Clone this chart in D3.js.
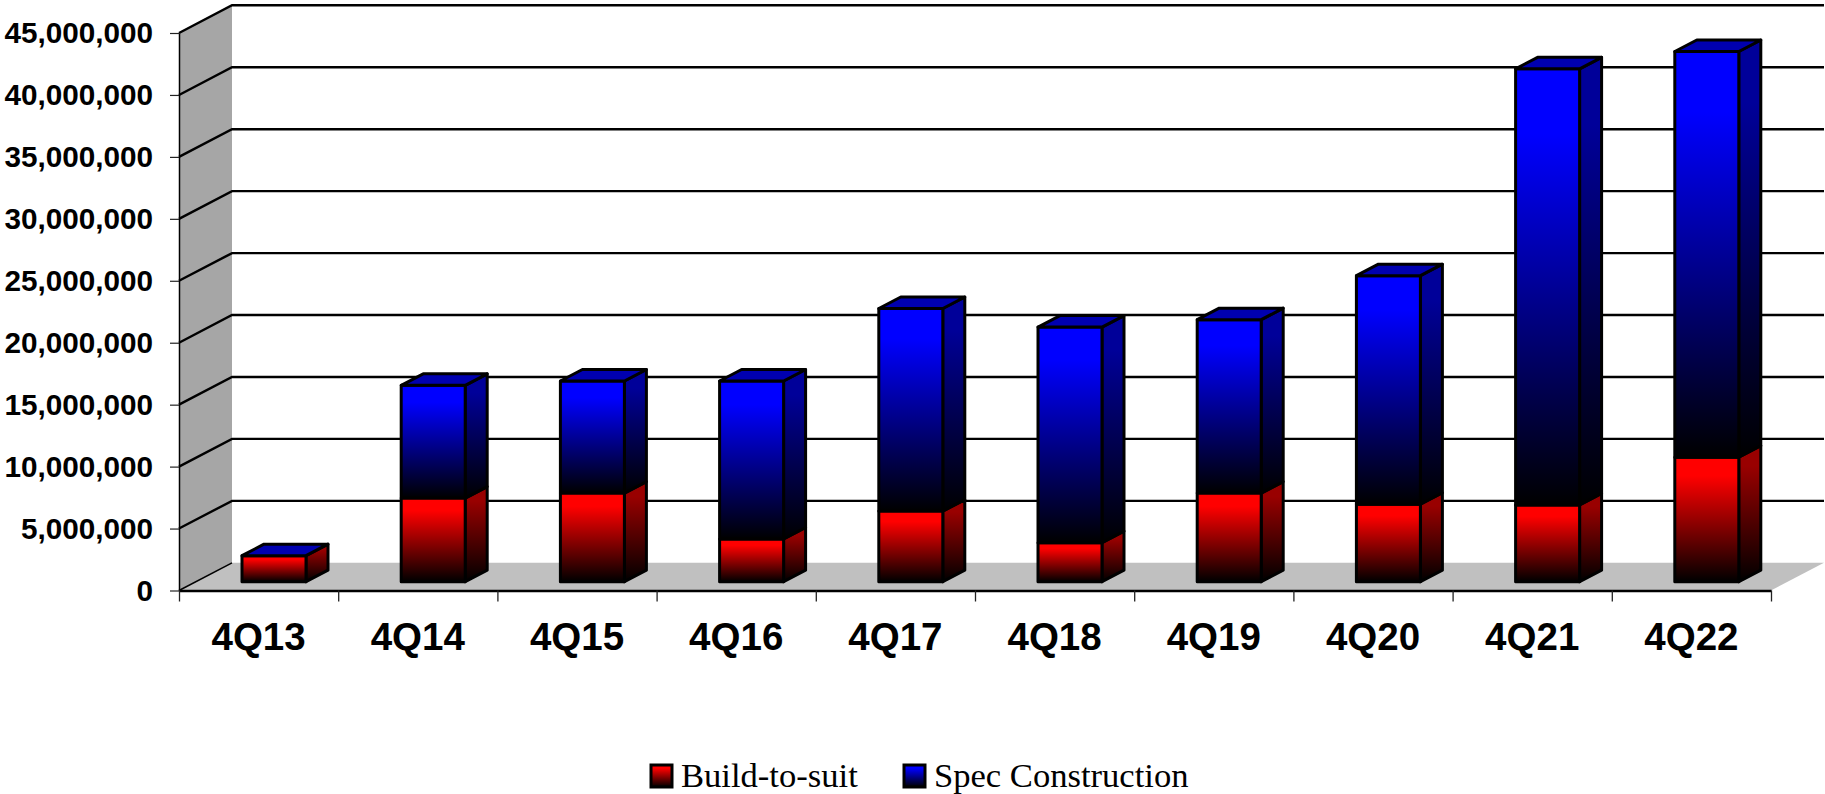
<!DOCTYPE html>
<html>
<head>
<meta charset="utf-8">
<script src="https://cdn.jsdelivr.net/npm/d3@7"></script>
<style>
  html, body { margin: 0; padding: 0; background: #fff; overflow: hidden; }
  .axis-label { font-family: "Liberation Sans", Arial, sans-serif; font-weight: 700; fill: #000; }
  .legend-label { font-family: "Liberation Serif", serif; font-size: 34.6px; fill: #000; }
</style>
</head>
<body>
<svg id="chart"></svg>
<script>
const quarters = ['4Q13', '4Q14', '4Q15', '4Q16', '4Q17', '4Q18', '4Q19', '4Q20', '4Q21', '4Q22'];
const buildToSuit = [2100000, 6750000, 7150000, 3450000, 5700000, 3150000, 7150000, 6250000, 6200000, 10050000];
const specConstruction = [0, 9100000, 9050000, 12750000, 16350000, 17400000, 14000000, 18450000, 35200000, 32750000];
const seriesNames = ['Build-to-suit', 'Spec Construction'];
const yTicks = [0, 5000000, 10000000, 15000000, 20000000, 25000000, 30000000, 35000000, 40000000, 45000000];

const width = 1825;
const height = 794;

const plot = { left: 179, right: 1771, top: 33, bottom: 590.5 };
const wall = { dx: 53, dy: -27.7 }; // depth of the 3d box
const bar = { offset: 63, width: 64, dx: 22, dy: -11.5, lift: -8.8 };

const svg = d3.select('#chart').attr('width', width).attr('height', height);

const xScale = d3.scaleBand().domain(quarters).range([plot.left, plot.right]);
const xEdges = d3.scaleLinear().domain([0, quarters.length]).range([plot.left, plot.right]);
const yScale = d3.scaleLinear().domain([0, 45000000]).range([plot.bottom, plot.top]);

const colors = {
  'Build-to-suit': { front: '#ff0000', side: '#990000' },
  'Spec Construction': { front: '#0000ff', side: '#000099' },
};

// gradients, all fading to black at the bottom
const defs = svg.append('defs');
function addGradient(id, color) {
  const g = defs.append('linearGradient').attr('id', id).attr('x1', 0).attr('y1', 0).attr('x2', 0).attr('y2', 1);
  g.append('stop').attr('offset', '0%').attr('stop-color', color);
  g.append('stop').attr('offset', '15%').attr('stop-color', color);
  g.append('stop').attr('offset', '100%').attr('stop-color', '#000');
}
seriesNames.forEach((name, i) => {
  addGradient(`front${i}`, colors[name].front);
  addGradient(`side${i}`, colors[name].side);
});

const poly = (pts) => `M${pts.map((p) => p.join(',')).join('L')}Z`;

// floor
svg.append('path')
  .attr('d', poly([
    [plot.left, plot.bottom],
    [plot.left + wall.dx, plot.bottom + wall.dy],
    [plot.right + wall.dx, plot.bottom + wall.dy],
    [plot.right, plot.bottom],
  ]))
  .attr('fill', '#c0c0c0');

// left wall
svg.append('path')
  .attr('d', poly([
    [plot.left, plot.top],
    [plot.left + wall.dx, plot.top + wall.dy],
    [plot.left + wall.dx, plot.bottom + wall.dy],
    [plot.left, plot.bottom],
  ]))
  .attr('fill', '#a6a6a6');

// gridlines, back wall and across the left wall
svg.append('g')
  .selectAll('path')
  .data(yTicks)
  .join('path')
  .attr('d', (d) => {
    const y = yScale(d);
    const diag = `M${plot.left},${y}L${plot.left + wall.dx},${y + wall.dy}`;
    return d === 0 ? diag : `${diag}L${plot.right + wall.dx},${y + wall.dy}`;
  })
  .attr('fill', 'none')
  .attr('stroke', '#000')
  .attr('stroke-width', (d) => (d === 0 ? 1.5 : 2.4));

// bars
const stacked = d3.stack().keys(seriesNames).value((d, key) => d[key])(
  quarters.map((q, i) => ({
    quarter: q,
    [seriesNames[0]]: buildToSuit[i],
    [seriesNames[1]]: specConstruction[i],
  })),
);

const barsG = svg.append('g').attr('stroke', '#000').attr('stroke-width', 3).attr('stroke-linejoin', 'round');

stacked.forEach((layer, s) => {
  const group = barsG.append('g');
  layer.forEach((seg) => {
    if (seg[1] === seg[0]) return;
    const x0 = xScale(seg.data.quarter) + bar.offset;
    const x1 = x0 + bar.width;
    const yTop = yScale(seg[1]) + bar.lift;
    const yBase = yScale(seg[0]) + bar.lift;
    group.append('path')
      .attr('d', poly([[x1, yTop], [x1 + bar.dx, yTop + bar.dy], [x1 + bar.dx, yBase + bar.dy], [x1, yBase]]))
      .attr('fill', `url(#side${s})`);
    group.append('rect')
      .attr('x', x0)
      .attr('y', yTop)
      .attr('width', bar.width)
      .attr('height', yBase - yTop)
      .attr('fill', `url(#front${s})`);
  });
});

// top faces always take the last series colour
barsG.append('g')
  .selectAll('path')
  .data(stacked[stacked.length - 1])
  .join('path')
  .attr('d', (seg) => {
    const x0 = xScale(seg.data.quarter) + bar.offset;
    const x1 = x0 + bar.width;
    const yTop = yScale(seg[1]) + bar.lift;
    return poly([[x0, yTop], [x0 + bar.dx, yTop + bar.dy], [x1 + bar.dx, yTop + bar.dy], [x1, yTop]]);
  })
  .attr('fill', '#0000b0');

// y axis
const yAxis = svg.append('g')
  .attr('transform', `translate(${plot.left},0)`)
  .call(d3.axisLeft(yScale).tickValues(yTicks).tickFormat(d3.format(',')).tickSize(9).tickSizeOuter(0).tickPadding(17));
yAxis.select('.domain').attr('stroke', '#000').attr('stroke-width', 1.5);
yAxis.selectAll('line').attr('stroke', '#222').attr('stroke-width', 1.2);
yAxis.selectAll('text').attr('class', 'axis-label').style('font-size', '29.7px');

// x axis: ticks on the band edges, labels in the band centres
const xTicks = svg.append('g')
  .attr('transform', `translate(0,${plot.bottom})`)
  .call(d3.axisBottom(xEdges).ticks(quarters.length).tickFormat('').tickSize(11).tickSizeOuter(0));
xTicks.select('.domain').attr('stroke', '#000').attr('stroke-width', 2.6);
xTicks.selectAll('line').attr('stroke', '#222').attr('stroke-width', 1.3);

const xLabels = svg.append('g')
  .attr('transform', `translate(0,${plot.bottom})`)
  .call(d3.axisBottom(xScale).tickSize(0).tickPadding(32));
xLabels.select('.domain').remove();
xLabels.selectAll('text').attr('class', 'axis-label').style('font-size', '38.5px');

// legend
const legendX = [651, 904];
const legend = svg.append('g')
  .selectAll('g')
  .data(seriesNames)
  .join('g')
  .attr('transform', (d, i) => `translate(${legendX[i]},765)`);
legend.append('rect')
  .attr('width', 21)
  .attr('height', 22)
  .attr('fill', (d, i) => `url(#front${i})`)
  .attr('stroke', '#000')
  .attr('stroke-width', 3);
legend.append('text')
  .attr('class', 'legend-label')
  .attr('x', 30)
  .attr('y', 22)
  .text((d) => d);
</script>
</body>
</html>
